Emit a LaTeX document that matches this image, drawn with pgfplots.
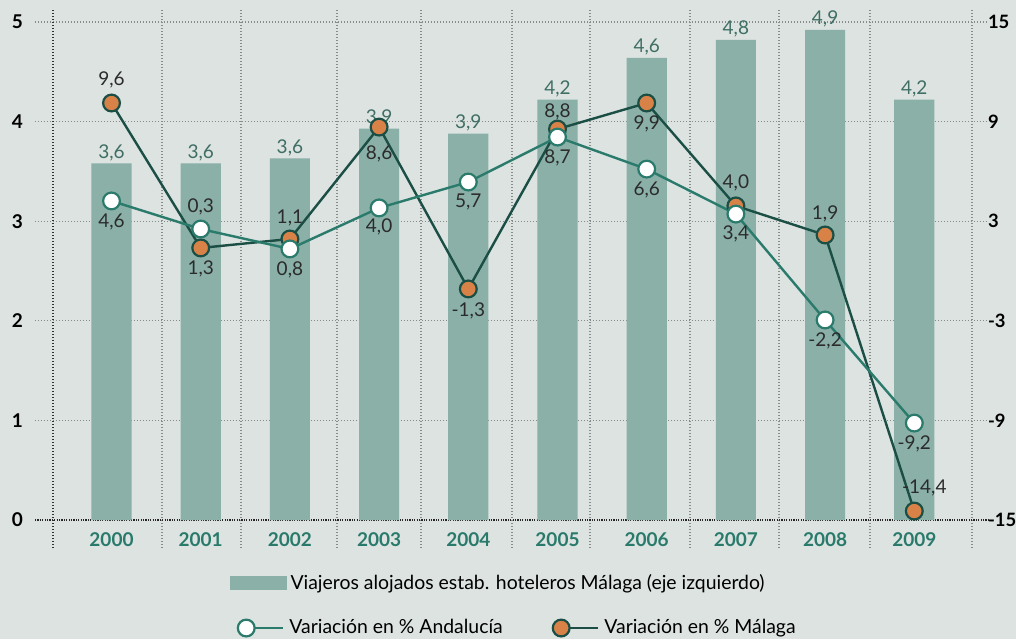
\documentclass[border=0pt]{standalone}
\usepackage{fontspec}
\setmainfont{Lato}
\usepackage{pgfplots}
\pgfplotsset{compat=1.18}
\usepackage{pgfplotstable}

\definecolor{bgc}{RGB}{220,227,224}
\definecolor{barc}{RGB}{138,176,168}
\definecolor{yearc}{RGB}{42,122,108}
\definecolor{barlab}{RGB}{63,110,100}
\definecolor{andc}{RGB}{42,123,108}
\definecolor{malc}{RGB}{27,79,69}
\definecolor{orac}{RGB}{217,130,72}
\definecolor{labc}{RGB}{43,43,43}
\definecolor{gridc}{RGB}{135,140,138}

\newcommand{\lblfont}{\fontsize{9.5}{11}\selectfont}
\newcommand{\legfont}{\fontsize{9.7}{11}\selectfont}

% bars: viajeros (millones), eje izquierdo
\pgfplotstableread{
x y lab
0 3.58 3,6
1 3.58 3,6
2 3.63 3,6
3 3.93 3,9
4 3.88 3,9
5 4.22 4,2
6 4.64 4,6
7 4.82 4,8
8 4.92 4,9
9 4.22 4,2
}\bars

% variacion Andalucia, eje derecho
\pgfplotstableread{
x y lab dy dx
0 4.22 4,6 -10.5 0
1 2.53 0,3 11 0
2 1.33 0,8 -10.5 0
3 3.80 4,0 -9.5 0
4 5.36 5,7 -10 0
5 8.07 8,7 -10.5 0
6 6.14 6,6 -10.5 0
7 3.43 3,4 -10 0
8 -2.95 -2,2 -10.5 0
9 -9.16 -9,2 -10.5 0
}\anda

% variacion Malaga, eje derecho
\pgfplotstableread{
x y lab dy dx
0 10.12 9,6 11.5 0
1 1.39 1,3 -10.5 0
2 1.93 1,1 10.5 0
3 8.67 8,6 -13.5 0
4 -1.08 -1,3 -11 0
5 8.55 8,8 8.5 0
6 10.12 9,9 -10.5 0
7 3.92 4,0 11.5 0
8 2.17 1,9 10.5 0
9 -14.46 -14,4 11.5 5
}\mala

\pgfplotsset{base/.style={
  at={(0pt,0pt)}, anchor=south west,
  scale only axis, width=459.5pt, height=249pt,
  xmin=-0.656, xmax=9.647,
  clip=false,
  axis line style={draw=none},
  major tick style={draw=none},
  tick label style={font=\lblfont\bfseries},
}}

\begin{document}
\begin{tikzpicture}
\fill[bgc] (-26.5pt,-59.5pt) rectangle (481.5pt,260pt);
\useasboundingbox (-26.5pt,-59.5pt) rectangle (481.5pt,260pt);

\begin{axis}[base,
  ymin=0, ymax=5,
  ytick={0,1,2,3,4,5},
  yticklabels={0,1,2,3,4,5},
  yticklabel style={xshift=-11.5pt},
  xtick={0,...,9},
  xticklabels={2000,2001,2002,2003,2004,2005,2006,2007,2008,2009},
  xticklabel style={text=yearc, yshift=-3pt},
  legend style={at={(0.1917,-0.1265)}, anchor=west, draw=none, fill=none,
    font=\legfont, inner sep=0pt},
  legend image code/.code={\fill[barc] (0pt,-3.5pt) rectangle (28.5pt,3.5pt);},
]
% rejilla punteada
\pgfplotsinvokeforeach{1,2,3,4,5}{
  \draw[gridc, line width=0.6pt, dash pattern=on 0.6pt off 0.9pt]
    (axis cs:-0.858,#1) -- (axis cs:9.826,#1);
}
\pgfplotsinvokeforeach{0.566,1.452,2.528,3.470,4.490,5.365,6.486,7.484,8.504,9.647}{
  \draw[gridc, line width=0.6pt, dash pattern=on 0.6pt off 0.9pt]
    (axis cs:#1,-0.281) -- (axis cs:#1,5.14);
}
\draw[black!80, line width=0.6pt, dash pattern=on 0.6pt off 0.9pt]
  (axis cs:-0.656,-0.281) -- (axis cs:-0.656,5.14);
\draw[black!85, line width=0.6pt, dash pattern=on 0.6pt off 0.6pt]
  (axis cs:-0.858,0) -- (axis cs:9.826,0);

\addplot[ybar, bar width=0.45, fill=barc, draw=none,
  nodes near coords, point meta=explicit symbolic,
  nodes near coords style={text=barlab, anchor=center, yshift=5.5pt, font=\lblfont}]
  table[x=x, y=y, meta=lab] {\bars};
\addlegendentry{Viajeros alojados estab. hoteleros Málaga (eje izquierdo)}
\end{axis}

\begin{axis}[base,
  ymin=-15, ymax=15,
  ytick={-15,-9,-3,3,9,15},
  yticklabels={-15,-9,-3,3,9,15},
  yticklabel pos=right,
  yticklabel style={xshift=4.5pt, anchor=west, font=\fontsize{9.2}{11}\selectfont\bfseries},
  xtick=\empty,
  legend columns=2,
  reverse legend,
  legend style={at={(0.2007,-0.2169)}, anchor=west, draw=none, fill=none,
    font=\legfont, inner sep=0pt,
    /tikz/every odd column/.append style={column sep=0.5pt},
    /tikz/every even column/.append style={column sep=23pt}},
  legend image code/.code={
    \draw[#1, mark=none] (0pt,0pt) -- (18.5pt,0pt);
    \draw[#1] plot coordinates {(0pt,0pt)};},
]
\addplot[color=malc, line width=1.2pt, mark=*, mark size=4.2pt,
  mark options={fill=orac, draw=malc, line width=1.1pt},
  nodes near coords, point meta=explicit symbolic,
  visualization depends on=\thisrow{dy}\as\dy,
  visualization depends on=\thisrow{dx}\as\dx,
  nodes near coords style={text=labc, anchor=center, yshift=\dy pt, xshift=\dx pt, font=\lblfont}]
  table[x=x, y=y, meta=lab] {\mala};
\addlegendentry{Variación en \% Málaga}

\addplot[color=andc, line width=1.2pt, mark=*, mark size=4.2pt,
  mark options={fill=white, draw=andc, line width=1.1pt},
  nodes near coords, point meta=explicit symbolic,
  visualization depends on=\thisrow{dy}\as\dy,
  visualization depends on=\thisrow{dx}\as\dx,
  nodes near coords style={text=labc, anchor=center, yshift=\dy pt, xshift=\dx pt, font=\lblfont}]
  table[x=x, y=y, meta=lab] {\anda};
\addlegendentry{Variación en \% Andalucía}
\end{axis}
\end{tikzpicture}
\end{document}
